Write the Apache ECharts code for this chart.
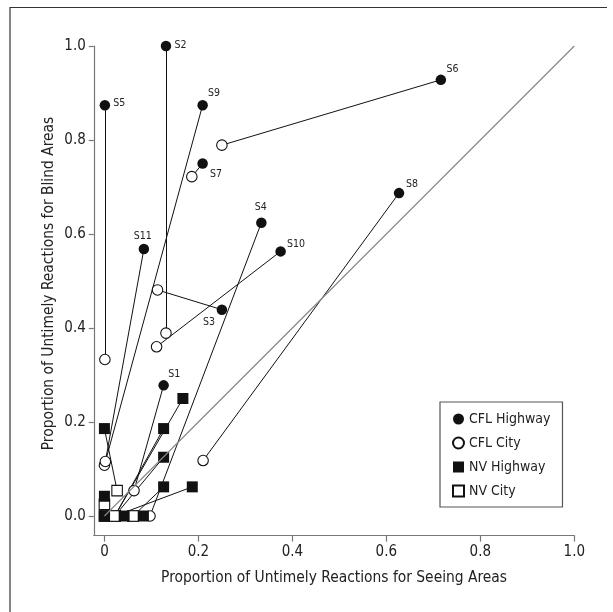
<!DOCTYPE html>
<html><head><meta charset="utf-8">
<script src="https://cdn.jsdelivr.net/npm/echarts@6/dist/echarts.min.js"></script>
<style>html,body{margin:0;padding:0;background:#fff}#c{width:613px;height:612px}</style>
</head><body><div id="c"></div>
<script>
// ---- data ----
const subjects    = ['S1','S2','S3','S4','S5','S6','S7','S8','S9','S10','S11'];
const cflHighwayX = [0.126,0.131,0.250,0.334,0.001,0.716,0.209,0.627,0.209,0.375,0.084];
const cflHighwayY = [0.278,1.000,0.439,0.624,0.874,0.928,0.750,0.687,0.874,0.563,0.568];
const cflCityX    = [0.063,0.131,0.113,0.097,0.001,0.250,0.186,0.210,0.000,0.111,0.002];
const cflCityY    = [0.054,0.389,0.481,0.000,0.333,0.789,0.722,0.118,0.108,0.360,0.116];
const nvHighwayX  = [0.000,0.167,0.126,0.126,0.126,0.187,0.000,0.000,0.042,0.083,0.000];
const nvHighwayY  = [0.186,0.250,0.186,0.125,0.062,0.062,0.042,0.000,0.000,0.000,0.000];
const nvCityX     = [0.027,0.022,0.022,0.022,0.061,0.022,0.000,0.000,0.022,0.061,0.022];
const nvCityY     = [0.054,0.000,0.000,0.000,0.000,0.000,0.025,0.000,0.000,0.000,0.000];
const identityX   = [0, 1];
const identityY   = [0, 1];
const xTicks      = [0, 0.2, 0.4, 0.6, 0.8, 1.0];
const xTickLabels = ['0','0.2','0.4','0.6','0.8','1.0'];
const yTicks      = [0, 0.2, 0.4, 0.6, 0.8, 1.0];
const yTickLabels = ['0.0','0.2','0.4','0.6','0.8','1.0'];
const seriesNames = ['CFL Highway','CFL City','NV Highway','NV City'];
const xTitle = 'Proportion of Untimely Reactions for Seeing Areas';
const yTitle = 'Proportion of Untimely Reactions for Blind Areas';

// ---- styling ----
const FONT = '"Liberation Sans Narrow","DejaVu Sans Condensed",sans-serif';
const labelOffsets = {
  S1:[10.6,-11.5], S2:[14.5,-0.5], S3:[-12.8,12.1], S4:[-0.7,-15.6], S5:[14.4,-1.9],
  S6:[11.7,-10.1], S7:[13.3,10.9], S8:[13,-8.5], S9:[11.3,-11.7], S10:[15.3,-7.4], S11:[-1.2,-13]
};
function pick(ticks, labels){
  return v => { let b=0; for(let i=1;i<ticks.length;i++){ if(Math.abs(ticks[i]-v)<Math.abs(ticks[b]-v)) b=i; } return labels[b]; };
}
const pairs = (ax, ay, bx, by) => ax.map((_, i) => ({coords: [[ax[i], ay[i]], [bx[i], by[i]]]}));
const pts = (xs, ys) => xs.map((x, i) => [x, ys[i]]);

const chart = echarts.init(document.getElementById('c'), null, {renderer:'canvas'});
const axisCol = '#777';
const textCol = '#222';
chart.setOption({
  animation:false,
  backgroundColor:'#fff',
  textStyle:{fontFamily:FONT},
  grid:{left:93.8, right:38.7, top:46, bottom:76.4, containLabel:false},
  xAxis:{
    type:'value', min:-0.0226, max:1,
    splitLine:{show:false},
    axisLine:{show:true, onZero:false, lineStyle:{color:axisCol, width:1.2}},
    axisTick:{show:true, customValues:xTicks, length:6, lineStyle:{color:axisCol, width:1.2}},
    axisLabel:{customValues:xTicks, formatter:pick(xTicks,xTickLabels), color:textCol, fontSize:15, fontFamily:FONT, margin:9},
    name:xTitle, nameLocation:'middle', nameGap:35,
    nameTextStyle:{fontSize:15.4, color:textCol, fontFamily:FONT}
  },
  yAxis:{
    type:'value', min:-0.0417, max:1,
    splitLine:{show:false},
    axisLine:{show:true, onZero:false, lineStyle:{color:axisCol, width:1.2}},
    axisTick:{show:true, customValues:yTicks, length:5, lineStyle:{color:axisCol, width:1.2}},
    axisLabel:{customValues:yTicks, formatter:pick(yTicks,yTickLabels), color:textCol, fontSize:15, fontFamily:FONT, margin:8}
  },
  legend:{
    data:seriesNames, orient:'vertical', left:440, top:402,
    borderColor:'#555', borderWidth:1.2, borderRadius:0,
    padding:[10,12,9,12], itemGap:10, itemWidth:11, itemHeight:11,
    textStyle:{fontSize:14, color:textCol, fontFamily:FONT}
  },
  graphic:[
    {type:'line', shape:{x1:10, y1:7.5, x2:607, y2:7.5}, style:{stroke:'#333', lineWidth:1.2}, silent:true},
    {type:'line', shape:{x1:10, y1:7, x2:10, y2:612}, style:{stroke:'#333', lineWidth:1.2}, silent:true},
    {type:'text', x:49, y:283.5, rotation:Math.PI/2, silent:true,
     style:{text:yTitle, fill:textCol, font:'15.4px ' + FONT, align:'center', verticalAlign:'middle'}}
  ],
  series:[
    {type:'lines', coordinateSystem:'cartesian2d', silent:true,
     lineStyle:{color:'#111', width:1, opacity:1},
     data:pairs(cflHighwayX, cflHighwayY, cflCityX, cflCityY)},
    {type:'lines', coordinateSystem:'cartesian2d', silent:true,
     lineStyle:{color:'#111', width:1, opacity:1},
     data:pairs(nvHighwayX, nvHighwayY, nvCityX, nvCityY)},
    {type:'line', silent:true, symbol:'none', lineStyle:{color:'#888', width:1.2},
     data:pts(identityX, identityY)},
    {name:'CFL City', type:'scatter', symbol:'circle', symbolSize:10.5,
     itemStyle:{color:'#fff', borderColor:'#111', borderWidth:1.1, opacity:1},
     data:pts(cflCityX, cflCityY)},
    {name:'NV City', type:'scatter', symbol:'rect', symbolSize:10.5,
     itemStyle:{color:'#fff', borderColor:'#111', borderWidth:1.1, opacity:1},
     data:pts(nvCityX, nvCityY)},
    {name:'CFL Highway', type:'scatter', symbol:'circle', symbolSize:10.5,
     itemStyle:{color:'#111', opacity:1},
     data:cflHighwayX.map((x,i)=>({value:[x, cflHighwayY[i]], name:subjects[i],
       label:{show:true, position:'inside', offset:labelOffsets[subjects[i]], formatter:'{b}',
              color:textCol, fontSize:10.5, fontFamily:FONT}}))},
    {name:'NV Highway', type:'scatter', symbol:'rect', symbolSize:11,
     itemStyle:{color:'#111', opacity:1},
     data:pts(nvHighwayX, nvHighwayY)}
  ]
});
</script></body></html>
